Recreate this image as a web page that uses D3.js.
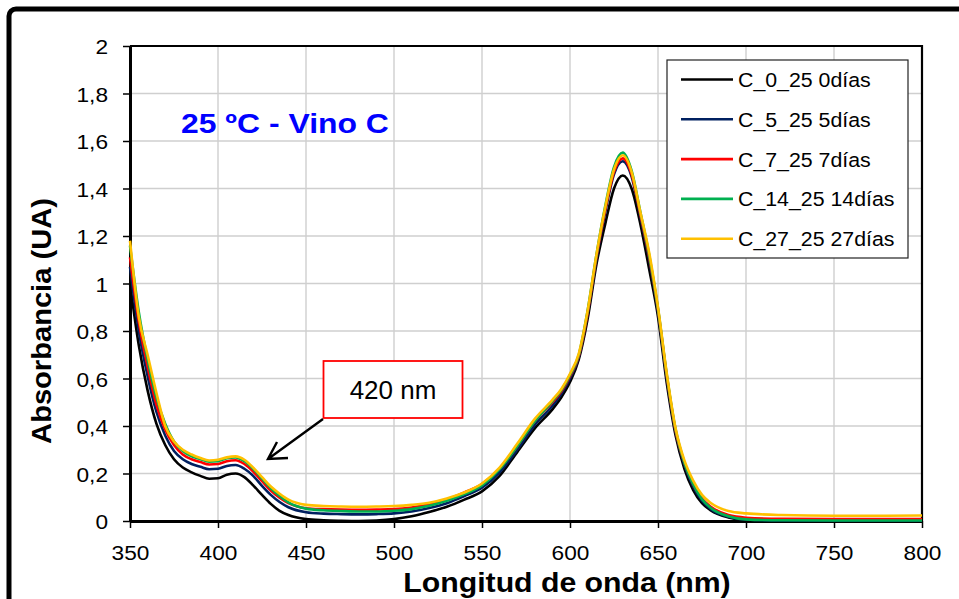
<!doctype html>
<html>
<head>
<meta charset="utf-8">
<style>
  body { margin: 0; background: #fff; }
  text { font-family: "Liberation Sans", Arial, sans-serif; }
</style>
<script src="https://d3js.org/d3.v7.min.js"></script>
</head>
<body>
<svg width="959" height="599"></svg>
<script>
// data
var wavelengths = [350,355,360,365,370,375,380,385,390,395,400,405,410,415,420,425,430,435,440,450,460,470,480,490,500,510,520,530,540,550,560,570,580,590,595,600,605,610,615,620,625,630,635,640,645,650,655,660,665,670,675,680,690,700,720,750,800];

var abs0 = [1.00,0.74,0.55,0.41,0.32,0.26,0.225,0.205,0.19,0.178,0.18,0.195,0.20,0.185,0.15,0.11,0.072,0.043,0.025,0.008,0.003,0.001,0.000,0.002,0.008,0.02,0.038,0.06,0.09,0.125,0.19,0.29,0.39,0.47,0.52,0.585,0.68,0.85,1.08,1.25,1.40,1.455,1.40,1.25,1.06,0.86,0.58,0.36,0.22,0.13,0.075,0.045,0.015,0.004,0.001,0.0,0.0];
var abs5 = [1.07,0.80,0.61,0.46,0.36,0.295,0.26,0.24,0.228,0.218,0.22,0.232,0.236,0.22,0.19,0.148,0.11,0.08,0.058,0.037,0.031,0.029,0.028,0.029,0.032,0.04,0.055,0.075,0.105,0.14,0.205,0.30,0.405,0.485,0.535,0.60,0.69,0.87,1.10,1.30,1.46,1.515,1.45,1.28,1.10,0.88,0.60,0.375,0.235,0.145,0.085,0.05,0.018,0.006,0.002,0.001,0.001];
var abs7 = [1.11,0.84,0.65,0.49,0.385,0.32,0.28,0.26,0.248,0.238,0.24,0.252,0.256,0.24,0.208,0.168,0.128,0.098,0.075,0.054,0.05,0.048,0.047,0.048,0.05,0.057,0.07,0.09,0.12,0.155,0.22,0.315,0.42,0.50,0.545,0.61,0.695,0.875,1.11,1.31,1.47,1.527,1.46,1.29,1.11,0.89,0.61,0.38,0.245,0.155,0.095,0.06,0.025,0.014,0.009,0.008,0.008];
var abs14 = [1.16,0.88,0.68,0.52,0.41,0.335,0.295,0.272,0.26,0.25,0.252,0.264,0.268,0.252,0.22,0.178,0.138,0.105,0.078,0.052,0.045,0.042,0.04,0.04,0.043,0.05,0.064,0.085,0.113,0.15,0.218,0.315,0.42,0.505,0.55,0.615,0.70,0.885,1.12,1.325,1.49,1.551,1.475,1.30,1.12,0.895,0.615,0.385,0.245,0.155,0.092,0.055,0.02,0.007,0.003,0.002,0.002];
var abs27 = [1.18,0.86,0.70,0.54,0.40,0.335,0.30,0.28,0.265,0.255,0.258,0.268,0.272,0.258,0.225,0.185,0.145,0.115,0.09,0.068,0.063,0.061,0.06,0.061,0.063,0.068,0.077,0.095,0.12,0.158,0.225,0.325,0.43,0.51,0.555,0.62,0.705,0.885,1.12,1.32,1.48,1.54,1.47,1.30,1.13,0.90,0.62,0.39,0.255,0.17,0.11,0.076,0.042,0.032,0.025,0.022,0.023];

var seriesNames = ["C_0_25 0días", "C_5_25 5días", "C_7_25 7días", "C_14_25 14días", "C_27_25 27días"];
var seriesValues = [abs0, abs5, abs7, abs14, abs27];
var seriesColors = ["#000000", "#002060", "#ff0000", "#00b050", "#ffc000"];

var xTicks = [350,400,450,500,550,600,650,700,750,800];
var yTicks = [0,0.2,0.4,0.6,0.8,1,1.2,1.4,1.6,1.8,2];
var yTickLabels = ["0","0,2","0,4","0,6","0,8","1","1,2","1,4","1,6","1,8","2"];

var svg = d3.select("svg");
var plotL = 130, plotR = 922, plotT = 46, plotB = 521;

var x = d3.scaleLinear().domain([350, 800]).range([plotL, plotR]);
var y = d3.scaleLinear().domain([0, 2]).range([plotB, plotT]);

// outer frame
svg.append("rect")
   .attr("x", 9).attr("y", 9).attr("width", 990).attr("height", 640)
   .attr("rx", 7)
   .attr("fill", "none").attr("stroke", "#000").attr("stroke-width", 5);

// gridlines
svg.append("g").selectAll("line")
   .data(yTicks.slice(1, -1))
   .enter().append("line")
   .attr("x1", plotL).attr("x2", plotR)
   .attr("y1", function(d) { return y(d); }).attr("y2", function(d) { return y(d); })
   .attr("stroke", "#cfcfcf").attr("stroke-width", 1.4);
svg.append("g").selectAll("line")
   .data(xTicks.slice(1, -1))
   .enter().append("line")
   .attr("y1", plotT).attr("y2", plotB)
   .attr("x1", function(d) { return x(d); }).attr("x2", function(d) { return x(d); })
   .attr("stroke", "#cfcfcf").attr("stroke-width", 1.4);

// plot frame top/right
svg.append("path")
   .attr("d", "M" + plotL + "," + plotT + "H" + plotR + "V" + plotB)
   .attr("fill", "none").attr("stroke", "#000").attr("stroke-width", 2.2);

// axes
var gx = svg.append("g")
   .attr("transform", "translate(0," + plotB + ")")
   .call(d3.axisBottom(x).tickValues(xTicks).tickSize(7).tickSizeOuter(0));
gx.select(".domain").attr("stroke-width", 3);
gx.selectAll(".tick line").attr("stroke-width", 1.5);
gx.selectAll(".tick text")
  .attr("y", 0).attr("dy", 0)
  .attr("transform", "translate(0,39) scale(1.08,1)")
  .attr("font-size", 21).attr("fill", "#000")
  .attr("font-family", "Liberation Sans, Arial, sans-serif");

var gy = svg.append("g")
   .attr("transform", "translate(" + plotL + ",0)")
   .call(d3.axisLeft(y).tickValues(yTicks).tickSize(7).tickSizeOuter(0)
   .tickFormat(function(d, i) { return yTickLabels[i]; }));
gy.select(".domain").attr("stroke-width", 3);
gy.selectAll(".tick line").attr("stroke-width", 1.5);
gy.selectAll(".tick text")
  .attr("x", 0).attr("dy", 0)
  .attr("transform", "translate(-22,7.5) scale(1.08,1)")
  .attr("font-size", 21).attr("fill", "#000")
  .attr("font-family", "Liberation Sans, Arial, sans-serif");

// curves
var line = d3.line()
   .x(function(d) { return x(d[0]); })
   .y(function(d) { return y(d[1]); })
   .curve(d3.curveMonotoneX);

seriesValues.forEach(function(vals, i) {
    svg.append("path")
       .datum(wavelengths.map(function(w, j) { return [w, vals[j]]; }))
       .attr("d", line)
       .attr("fill", "none")
       .attr("stroke", seriesColors[i])
       .attr("stroke-width", 2.6)
       .attr("stroke-linejoin", "round");
});

// legend
var lg = svg.append("g");
lg.append("rect")
  .attr("x", 667).attr("y", 60).attr("width", 241).attr("height", 198)
  .attr("fill", "#fff").attr("stroke", "#222").attr("stroke-width", 1.2);
seriesNames.forEach(function(name, i) {
    var ly = 79.5 + i * 39.8;
    lg.append("line")
      .attr("x1", 681).attr("x2", 733).attr("y1", ly).attr("y2", ly)
      .attr("stroke", seriesColors[i]).attr("stroke-width", 2.6);
    lg.append("text")
      .attr("transform", "translate(738," + (ly + 7.5) + ") scale(1.04,1)")
      .attr("font-size", 20.5)
      .text(name);
});

// chart title
svg.append("text")
   .attr("transform", "translate(181,133) scale(1.14,1)")
   .attr("font-size", 28).attr("font-weight", "bold").attr("fill", "#0000ff")
   .text("25 ºC - Vino C");

// axis titles
svg.append("text")
   .attr("transform", "translate(567,592) scale(1.08,1)")
   .attr("text-anchor", "middle")
   .attr("font-size", 28).attr("font-weight", "bold")
   .text("Longitud de onda (nm)");
svg.append("text")
   .attr("transform", "translate(51,321) rotate(-90) scale(1.04,1)")
   .attr("text-anchor", "middle")
   .attr("font-size", 28).attr("font-weight", "bold")
   .text("Absorbancia (UA)");

// 420 nm annotation
svg.append("rect")
   .attr("x", 323.5).attr("y", 361).attr("width", 139).attr("height", 57)
   .attr("fill", "#fff").attr("stroke", "#ff0000").attr("stroke-width", 1.8);
svg.append("text")
   .attr("x", 393).attr("y", 399)
   .attr("text-anchor", "middle")
   .attr("font-family", "Lato, 'Open Sans', sans-serif")
   .attr("font-size", 26)
   .text("420 nm");
svg.append("path")
   .attr("d", "M323,419 L268,459 M277,442 L268,459 L288,458")
   .attr("fill", "none").attr("stroke", "#000").attr("stroke-width", 2.4)
   .attr("stroke-linejoin", "miter");
</script>
</body>
</html>
